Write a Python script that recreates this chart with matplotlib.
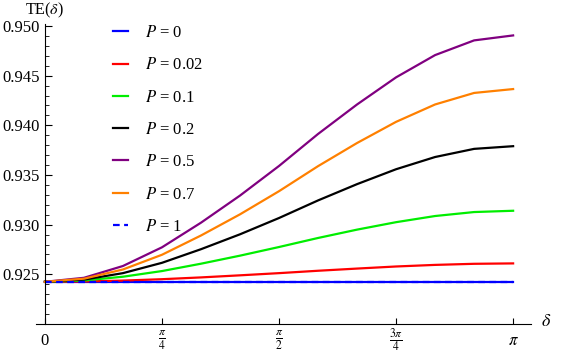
import matplotlib
matplotlib.use("Agg")
import matplotlib.pyplot as plt
import numpy as np

plt.rcParams['font.family'] = ['Liberation Serif', 'DejaVu Serif']
plt.rcParams['mathtext.fontset'] = 'stix'

# delta positions (in units of pi/12) where the curves were read
delta_k = [0, 1, 2, 3, 4, 5, 6, 7, 8, 9, 10, 11, 12]

te_p0 = [0.92425] * 13
te_p002 = [0.92425, 0.92428, 0.92437, 0.92451, 0.92469, 0.9249, 0.92512,
           0.92536, 0.92558, 0.92579, 0.92595, 0.92606, 0.9261]
te_p01 = [0.92425, 0.92438, 0.92476, 0.92533, 0.92607, 0.92688, 0.92775,
          0.92866, 0.9295, 0.93025, 0.93087, 0.93127, 0.9314]
te_p02 = [0.92425, 0.92447, 0.92512, 0.92616, 0.92753, 0.92903, 0.93067,
          0.93244, 0.93408, 0.93558, 0.93681, 0.93763, 0.9379]
te_p05 = [0.92425, 0.92465, 0.92584, 0.92772, 0.9302, 0.93293, 0.93591,
          0.93913, 0.9421, 0.94483, 0.94707, 0.94855, 0.94905]
te_p07 = [0.92425, 0.92456, 0.92549, 0.92697, 0.92891, 0.93104, 0.93337,
          0.93589, 0.93822, 0.94035, 0.9421, 0.94326, 0.94365]
te_p1 = [0.92425] * 13

labels = ["0", "0.02", "0.1", "0.2", "0.5", "0.7", "1"]
colors = ["#0000ff", "#ff0000", "#00ee00", "#000000", "#800080", "#ff8000", "#0000ff"]

delta = np.array(delta_k) * np.pi / 12

fig = plt.figure(figsize=(5.78, 3.58), dpi=100)
ax = fig.add_axes([36/578, 34/358, 495/578, 300/358])

series = [te_p0, te_p002, te_p01, te_p02, te_p05, te_p07, te_p1]
for i, s in enumerate(series):
    ls = (0, (3, 2)) if labels[i] == "1" else "-"
    ax.plot(delta, s, color=colors[i], lw=1.6, ls=ls, label=f"$P$ = {labels[i]}")

ax.set_xlim(-0.06, np.pi + 0.12)
ax.set_ylim(0.920, 0.9502)
ax.spines['left'].set_position(('data', 0))
ax.spines['top'].set_visible(False)
ax.spines['right'].set_visible(False)

ax.set_xticks([0, np.pi/4, np.pi/2, 3*np.pi/4, np.pi])
ax.set_xticklabels(["0", r"$\frac{\pi}{4}$", r"$\frac{\pi}{2}$", r"$\frac{3\pi}{4}$", r"$\pi$"], fontsize=12)
for lbl in ax.get_xticklabels():
    lbl.set_verticalalignment('center')
ax.set_yticks([0.925, 0.930, 0.935, 0.940, 0.945, 0.950])
ax.set_yticklabels(["0.925", "0.930", "0.935", "0.940", "0.945", "0.950"], fontsize=12)
ax.set_yticks(np.arange(0.921, 0.950, 0.001), minor=True)
ax.tick_params(axis='y', which='major', direction='in', length=5, width=0.8, pad=4)
ax.tick_params(axis='y', which='minor', direction='in', length=3, width=0.6)
ax.tick_params(axis='x', which='major', direction='in', length=4, width=0.8, pad=12)

fig.text(25/578, 1 - 10/358, r"TE($\delta$)", fontsize=11.5, va='center', ha='left')
fig.text(541/578, 1 - 321/358, r"$\delta$", fontsize=13, va='center', ha='left')

ax.legend(loc='upper left', bbox_to_anchor=(98/578, 1 - 10/358), bbox_transform=fig.transFigure,
          frameon=False, fontsize=12, handlelength=0.9, handletextpad=1.0, labelspacing=0.98)

fig.savefig("out.png", dpi=100)
